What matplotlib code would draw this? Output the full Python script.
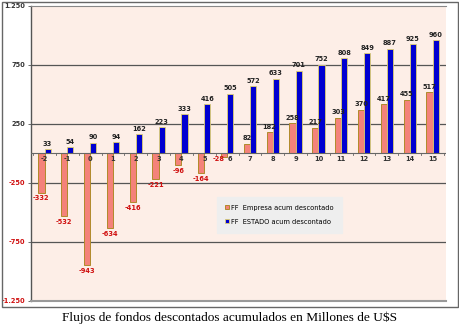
import numpy as np
import matplotlib.pyplot as plt
from matplotlib.patches import Rectangle

years = [-2, -1, 0, 1, 2, 3, 4, 5, 6, 7, 8, 9, 10, 11, 12, 13, 14, 15]
empresa = [-332, -532, -943, -634, -416, -221, -96, -164, -28, 82, 182, 258, 217, 303, 370, 417, 455, 517]
estado = [33, 54, 90, 94, 162, 223, 333, 416, 505, 572, 633, 701, 752, 808, 849, 887, 925, 960]
yticks = [-1250, -750, -250, 250, 750, 1250]
ytick_labels = ['-1.250', '-750', '-250', '250', '750', '1.250']

fig = plt.figure(figsize=(4.6, 3.27), dpi=100)
ax = fig.add_axes([0.067, 0.08, 0.903, 0.902])
ax.set_facecolor('#FDEEE7')

# outer frame of the chart
fig.patches.append(Rectangle((0.004, 0.06), 0.992, 0.934, transform=fig.transFigure,
                             fill=False, edgecolor='#666666', linewidth=1.0))

x = np.arange(len(years))
w = 0.27
ax.bar(x - w / 2, empresa, w, color='#F4827A', edgecolor='#B08A2A', linewidth=0.7, zorder=3,
       label='FF  Empresa acum descontado')
ax.bar(x + w / 2, estado, w, color='#0000D0', edgecolor='#E0D070', linewidth=0.6, zorder=3,
       label='FF  ESTADO acum descontado')

for xi, v in zip(x, empresa):
    if v < 0:
        if v > -60:
            # small value: label sits on the category row, pushed left
            ax.text(xi - 0.35, -50, str(v), ha='center', va='center', fontsize=4.8,
                    color='#D01010', fontweight='bold', zorder=5)
        else:
            ax.text(xi - w / 2, v - 25, str(v), ha='center', va='top', fontsize=4.8,
                    color='#D01010', fontweight='bold')
    else:
        ax.text(xi - w / 2, v + 20, str(v), ha='center', va='bottom', fontsize=4.8,
                color='#222222', fontweight='bold')
for xi, v in zip(x, estado):
    ax.text(xi + w / 2, v + 20, str(v), ha='center', va='bottom', fontsize=4.8,
            color='#222222', fontweight='bold')

# category labels just under the zero line
for xi, yr in zip(x, years):
    ax.text(xi + (0.12 if yr == 6 else 0), -50, str(yr), ha='center', va='center', fontsize=4.8,
            color='#333333', fontweight='bold', zorder=4)

ax.set_xlim(-0.6, len(years) - 0.4)
ax.set_ylim(-1250, 1250)
ax.set_xticks([])
ax.set_yticks(yticks)
ax.set_yticklabels(ytick_labels, fontsize=4.8, fontweight='bold')
for lbl, v in zip(ax.get_yticklabels(), yticks):
    lbl.set_color('#D01010' if v < 0 else '#333333')
ax.tick_params(axis='y', length=2, width=0.6, color='#555555', pad=2)

for g in [750, 250, -250, -750]:
    ax.axhline(g, color='#555555', linewidth=0.9, zorder=1)
ax.axhline(0, color='#666666', linewidth=0.8, zorder=4)
for xb in np.arange(-0.5, len(years), 1.0):
    ax.plot([xb, xb], [0, -18], color='#666666', linewidth=0.6, zorder=4)

ax.spines['right'].set_visible(False)
ax.spines['top'].set_color('#888888')
ax.spines['top'].set_linewidth(0.8)
ax.spines['left'].set_color('#555555')
ax.spines['left'].set_linewidth(1.0)
ax.spines['bottom'].set_color('#999999')
ax.spines['bottom'].set_linewidth(1.5)

leg = ax.legend(loc='upper left', bbox_to_anchor=(0.44, 0.365), fontsize=4.8,
                frameon=True, fancybox=False, handlelength=0.6, handleheight=0.6,
                handletextpad=0.3, borderpad=1.2, labelspacing=1.2)
leg.get_frame().set_facecolor('#EEEEEE')
leg.get_frame().set_edgecolor('#EEEEEE')
leg.get_frame().set_alpha(1)

fig.text(0.5, 0.028, 'Flujos de fondos descontados acumulados en Millones de U\\$S',
         ha='center', va='center', fontsize=9.6, family='Liberation Serif')

fig.savefig('out.png', dpi=100, facecolor='white')
